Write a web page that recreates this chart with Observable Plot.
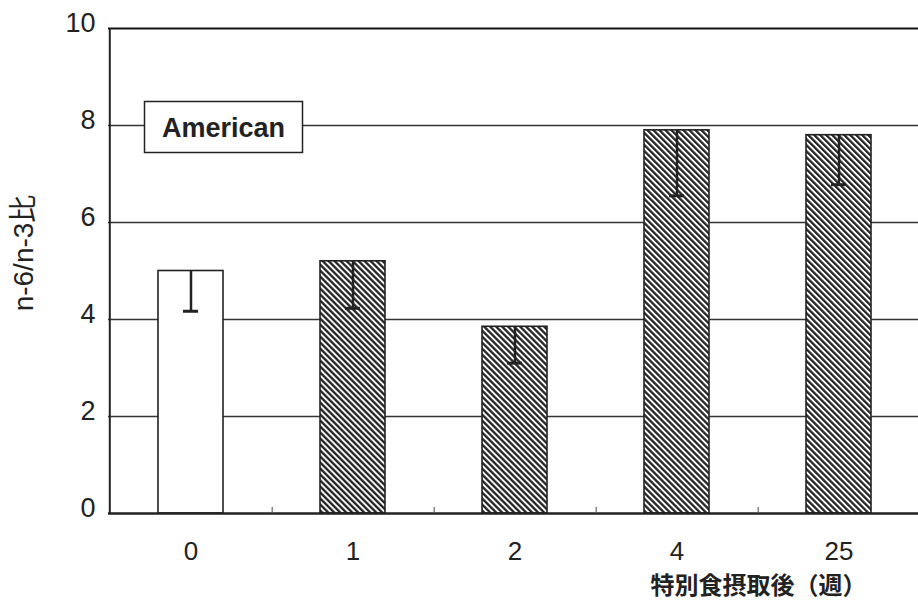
<!DOCTYPE html>
<html>
<head>
<meta charset="utf-8">
<script src="https://cdn.jsdelivr.net/npm/d3@7"></script>
<script src="https://cdn.jsdelivr.net/npm/@observablehq/plot@0.6"></script>
<style>
  html, body { margin: 0; padding: 0; background: #fff; }
  #chart { width: 918px; height: 600px; }
</style>
</head>
<body>
<div id="chart"></div>
<script>
// Weeks after starting the special diet (0 = usual American diet)
const weeks = ["0", "1", "2", "4", "25"];
// Mean n-6/n-3 ratio per week
const ratio = [5.0, 5.2, 3.85, 7.9, 7.8];
// Lower end of each error bar
const ratioLower = [4.17, 4.23, 3.1, 6.55, 6.78];
// Which diet each bar belongs to
const diet = ["american", "special", "special", "special", "special"];
const yTicks = [0, 2, 4, 6, 8, 10];
const gridValues = [2, 4, 6, 8];
const legendLabel = "American";
const yTitle = "n-6/n-3比";
const xTitle = "特別食摂取後（週）";

const data = weeks.map((w, i) => ({week: w, ratio: ratio[i], lower: ratioLower[i], diet: diet[i]}));

const W = 918, H = 600;
const margin = {top: 28, right: -2, bottom: 87, left: 108};
const step = (W - margin.left - margin.right) / weeks.length;
const ink = "#222";

const chart = Plot.plot({
  width: W,
  height: H,
  marginTop: margin.top,
  marginRight: margin.right,
  marginBottom: margin.bottom,
  marginLeft: margin.left,
  style: {fontFamily: "'Liberation Sans', Arial, 'Noto Sans CJK JP', sans-serif", color: ink, background: "#fff", overflow: "visible"},
  x: {domain: weeks, paddingInner: 0.6, paddingOuter: 0.3, axis: null},
  y: {domain: [0, 10], axis: null},
  marks: [
    // horizontal grid
    Plot.ruleY(gridValues, {stroke: "#333", strokeWidth: 1.5}),
    Plot.ruleY([10], {stroke: "#111", strokeWidth: 2}),
    // bars
    Plot.barY(data.filter(d => d.diet === "american"), {x: "week", y: "ratio", fill: "#fff", stroke: ink, strokeWidth: 1.6}),
    Plot.barY(data.filter(d => d.diet === "special"), {x: "week", y: "ratio", fill: "url(#hatch)", stroke: ink, strokeWidth: 1.6}),
    // error bars hanging down from the bar tops
    Plot.ruleX(data, {x: "week", y1: "lower", y2: "ratio", stroke: ink, strokeWidth: 2.5}),
    Plot.tickY(data, {x: "week", y: "lower", stroke: ink, strokeWidth: 3, insetLeft: 25, insetRight: 25}),
    // axis lines
    Plot.ruleY([0], {stroke: ink, strokeWidth: 2.5}),
    Plot.ruleX(weeks.slice(0, 1), {x: d => d, y1: 0, y2: 10, dx: -step / 2, stroke: ink, strokeWidth: 2}),
    // small ticks between categories
    Plot.ruleX(weeks.slice(0, -1), {x: d => d, y1: 0, y2: 0, insetBottom: 6, dx: step / 2, stroke: "#666", strokeWidth: 1.2}),
    // axes
    Plot.axisY({ticks: yTicks, tickSize: 0, tickPadding: 13, fontSize: 27, dy: -5, label: null}),
    Plot.axisX({tickSize: 0, tickPadding: 28, fontSize: 26, label: null}),
    // axis titles
    Plot.text([yTitle], {text: d => d, frameAnchor: "left", textAnchor: "middle", rotate: -90, dx: -76, dy: -18, lineAnchor: "bottom", fontSize: 28}),
    Plot.text([xTitle], {text: d => d, frameAnchor: "bottom-left", textAnchor: "start", dx: 542, dy: 80, lineAnchor: "bottom", fontSize: 24, fontWeight: "bold", fontFamily: "'Noto Sans CJK JP', sans-serif"})
  ]
});

// diagonal hatching for the special-diet bars
const svg = d3.select(chart);
const pat = svg.insert("defs", ":first-child")
  .append("pattern")
  .attr("id", "hatch")
  .attr("patternUnits", "userSpaceOnUse")
  .attr("width", 4.24)
  .attr("height", 4.24)
  .attr("patternTransform", "rotate(-45)");
pat.append("rect").attr("width", 4.24).attr("height", 4.24).attr("fill", "#fff");
pat.append("rect").attr("width", 2.3).attr("height", 4.24).attr("fill", "#222");

// boxed label for the usual-diet bar
const y = chart.scale("y");
const boxH = 51, boxW = 158, boxX = 144.5;
const boxCy = y.apply(8) + 2;
const g = svg.append("g");
g.append("rect")
  .attr("x", boxX).attr("y", boxCy - boxH / 2)
  .attr("width", boxW).attr("height", boxH)
  .attr("fill", "#fff").attr("stroke", ink).attr("stroke-width", 1.5);
g.append("text")
  .attr("x", boxX + boxW / 2).attr("y", boxCy + 10)
  .attr("text-anchor", "middle")
  .attr("font-size", 27).attr("font-weight", "bold")
  .attr("fill", ink)
  .text(legendLabel);

document.getElementById("chart").appendChild(chart);
</script>
</body>
</html>
